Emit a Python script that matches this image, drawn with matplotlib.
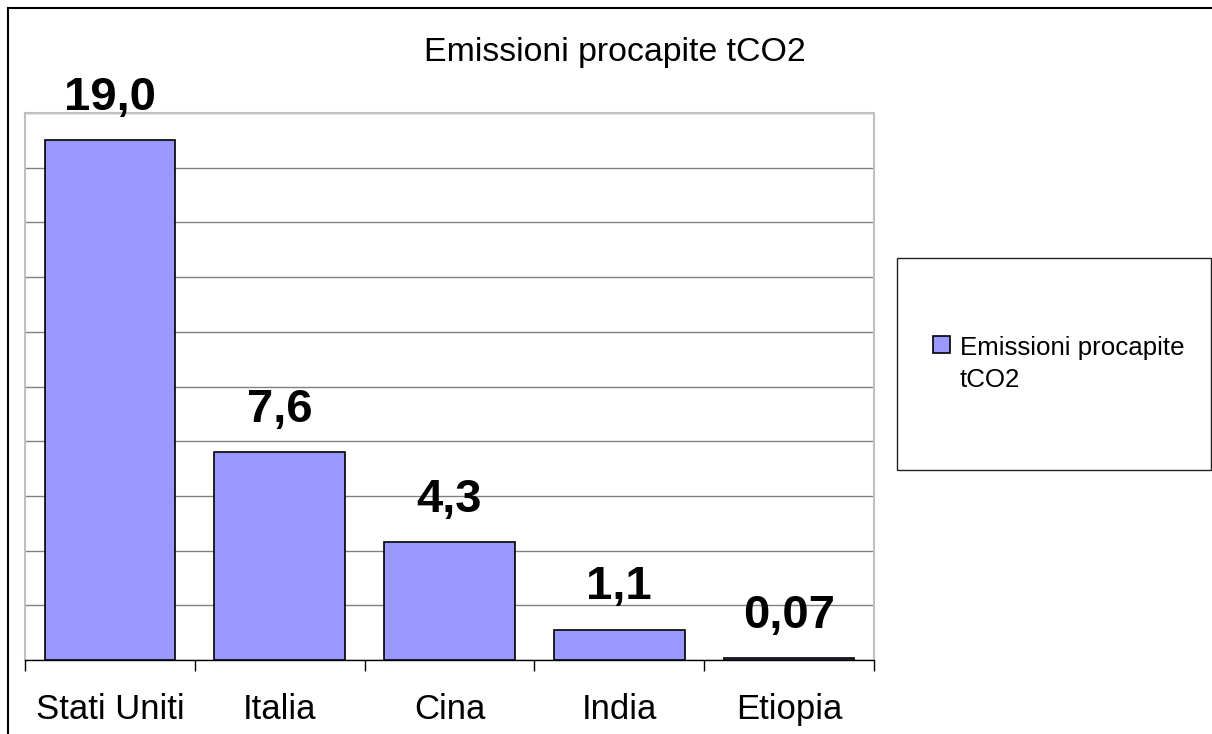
import matplotlib.pyplot as plt
from matplotlib.patches import Rectangle
from matplotlib.ticker import FixedLocator, MultipleLocator

countries = ["Stati Uniti", "Italia", "Cina", "India", "Etiopia"]
emissions = [19.0, 7.6, 4.3, 1.1, 0.07]
series_name = "Emissioni procapite tCO2"

W, H = 1212, 734
plt.rcParams["font.family"] = ["Liberation Sans", "DejaVu Sans"]

fig = plt.figure(figsize=(W / 100, H / 100), dpi=100)
fig.patch.set_facecolor("white")


def px(x0, y0, x1, y1):
    # pixel box (top-left origin) -> figure fraction [left, bottom, width, height]
    return [x0 / W, 1 - y1 / H, (x1 - x0) / W, (y1 - y0) / H]


ax = fig.add_axes(px(25, 113, 874, 660))

x = range(len(countries))
bars = ax.bar(x, emissions, width=0.77, color="#9999ff", edgecolor="black",
              linewidth=1.2, label="Emissioni procapite\ntCO2", zorder=3)

for xi, v in zip(x, emissions):
    txt = f"{v:.1f}" if v >= 0.1 else f"{v:.2f}"
    ax.annotate(txt.replace(".", ","), (xi, v), xytext=(0, 22),
                textcoords="offset points", ha="center", va="baseline",
                fontsize=34, fontweight="bold", zorder=4)

ax.set_xlim(-0.5, len(countries) - 0.5)
ax.set_ylim(0, 20)
ax.yaxis.set_major_locator(MultipleLocator(2))
ax.grid(axis="y", color="#808080", linewidth=1.0, zorder=1)
ax.tick_params(axis="y", left=False, labelleft=False)

ax.set_xticks(list(x))
ax.set_xticklabels(countries, fontsize=25)
ax.xaxis.set_minor_locator(FixedLocator([i - 0.5 for i in range(len(countries) + 1)]))
ax.tick_params(axis="x", which="major", length=0, pad=24)
ax.tick_params(axis="x", which="minor", length=8, width=1.0, color="black")

for side in ("left", "top", "right"):
    ax.spines[side].set_color("#c0c0c0")
    ax.spines[side].set_linewidth(1.5)
ax.spines["bottom"].set_color("black")
ax.spines["bottom"].set_linewidth(1.0)

fig.text(615 / W, 1 - 61 / H, series_name, ha="center", va="baseline", fontsize=24.4)

# outer chart frame
fig.patches.append(Rectangle((8 / W, -0.1), 1.2, 1 - 8 / H + 0.1, transform=fig.transFigure,
                             fill=False, edgecolor="black", linewidth=1.5))

# legend box
lx0, ly0, lw, lh = px(897, 258, 1211, 470)
fig.patches.append(Rectangle((lx0, ly0), lw, lh, transform=fig.transFigure,
                             fill=False, edgecolor="#222222", linewidth=1.0))
leg = fig.legend(handles=[bars], loc="upper left", bbox_to_anchor=(933 / W, 1 - 336 / H),
                 frameon=False, fontsize=18.6, handlelength=0.66, handleheight=0.66,
                 handletextpad=0.39, borderpad=0, borderaxespad=0)
for t in leg.get_texts():
    t.set_linespacing(1.4)
# put the swatch next to the first line of the wrapped label
for column in leg._legend_handle_box.get_children():
    for item in column.get_children():
        item.align = "top"

fig.savefig("out.png", dpi=100)
